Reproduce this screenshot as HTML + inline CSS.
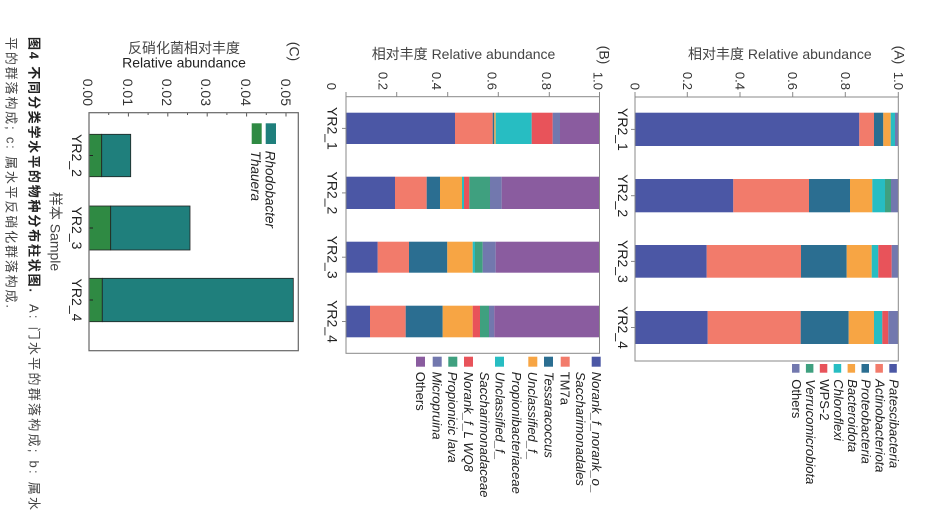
<!DOCTYPE html>
<html><head><meta charset="utf-8"><style>
html,body{margin:0;padding:0;background:#fff;}
svg{display:block;}
text{font-family:"Liberation Sans","Noto Sans CJK SC",sans-serif;}
</style></head><body>
<svg width="926" height="525" viewBox="0 0 926 525" xmlns="http://www.w3.org/2000/svg">
<rect width="926" height="525" fill="#fff"/>

<!-- ========== Panel A ========== -->
<text x="688" y="59" font-size="14" fill="#444">相对丰度 Relative abundance</text>
<text transform="translate(894.7,55) rotate(90)" font-size="14" fill="#333" text-anchor="middle">(A)</text>
<g font-size="13" fill="#333" text-anchor="end">
<text transform="translate(630.5,90) rotate(90)">0</text>
<text transform="translate(682.8,90) rotate(90)">0.2</text>
<text transform="translate(735.5,90) rotate(90)">0.4</text>
<text transform="translate(788.2,90) rotate(90)">0.6</text>
<text transform="translate(840.8,90) rotate(90)">0.8</text>
<text transform="translate(893.8,90) rotate(90)">1.0</text>
</g>
<g stroke="#888" stroke-width="1">
<line x1="635" y1="92" x2="635" y2="97"/><line x1="687.3" y1="92" x2="687.3" y2="97"/><line x1="740" y1="92" x2="740" y2="97"/>
<line x1="792.7" y1="92" x2="792.7" y2="97"/><line x1="845.3" y1="92" x2="845.3" y2="97"/><line x1="898.3" y1="92" x2="898.3" y2="97"/>
<line x1="631" y1="129.4" x2="635" y2="129.4"/><line x1="631" y1="195.7" x2="635" y2="195.7"/>
<line x1="631" y1="261.4" x2="635" y2="261.4"/><line x1="631" y1="327.5" x2="635" y2="327.5"/>
</g>
<!-- bars A -->
<g>
<rect x="635" y="112.7" width="224.3" height="33.3" fill="#4B57A5"/>
<rect x="859.3" y="112.7" width="14.7" height="33.3" fill="#F27B6B"/>
<rect x="874" y="112.7" width="9.3" height="33.3" fill="#2B6E91"/>
<rect x="883.3" y="112.7" width="7.4" height="33.3" fill="#F7A544"/>
<rect x="890.7" y="112.7" width="4.3" height="33.3" fill="#27BDC2"/>
<rect x="895" y="112.7" width="3.3" height="33.3" fill="#7278AE"/>

<rect x="635" y="179" width="98.3" height="33.3" fill="#4B57A5"/>
<rect x="733.3" y="179" width="75.7" height="33.3" fill="#F27B6B"/>
<rect x="809" y="179" width="41" height="33.3" fill="#2B6E91"/>
<rect x="850" y="179" width="22.3" height="33.3" fill="#F7A544"/>
<rect x="872.3" y="179" width="12.7" height="33.3" fill="#27BDC2"/>
<rect x="885" y="179" width="6" height="33.3" fill="#3FA07F"/>
<rect x="891" y="179" width="7.3" height="33.3" fill="#7278AE"/>

<rect x="635" y="245" width="71.7" height="32.7" fill="#4B57A5"/>
<rect x="706.7" y="245" width="94.3" height="32.7" fill="#F27B6B"/>
<rect x="801" y="245" width="45.7" height="32.7" fill="#2B6E91"/>
<rect x="846.7" y="245" width="25" height="32.7" fill="#F7A544"/>
<rect x="871.7" y="245" width="6.6" height="32.7" fill="#27BDC2"/>
<rect x="878.3" y="245" width="13.4" height="32.7" fill="#E8535A"/>
<rect x="891.7" y="245" width="6.6" height="32.7" fill="#7278AE"/>

<rect x="635" y="311" width="72.7" height="33" fill="#4B57A5"/>
<rect x="707.7" y="311" width="93" height="33" fill="#F27B6B"/>
<rect x="800.7" y="311" width="48" height="33" fill="#2B6E91"/>
<rect x="848.7" y="311" width="25.3" height="33" fill="#F7A544"/>
<rect x="874" y="311" width="8.3" height="33" fill="#27BDC2"/>
<rect x="882.3" y="311" width="6" height="33" fill="#E8535A"/>
<rect x="888.3" y="311" width="10" height="33" fill="#7278AE"/>
</g>
<rect x="635" y="97" width="263.3" height="264" fill="none" stroke="#888" stroke-width="1"/>
<g font-size="14" fill="#222" text-anchor="middle">
<text transform="translate(618,129.4) rotate(90)">YR2_1</text>
<text transform="translate(618,195.7) rotate(90)">YR2_2</text>
<text transform="translate(618,261.4) rotate(90)">YR2_3</text>
<text transform="translate(618,327.5) rotate(90)">YR2_4</text>
</g>
<!-- legend A -->
<g>
<rect x="889.3" y="364" width="7.5" height="8.7" fill="#4B57A5"/>
<rect x="875.4" y="364" width="7.5" height="8.7" fill="#F27B6B"/>
<rect x="861.5" y="364" width="7.5" height="8.7" fill="#2B6E91"/>
<rect x="847.6" y="364" width="7.5" height="8.7" fill="#F7A544"/>
<rect x="833.7" y="364" width="7.5" height="8.7" fill="#27BDC2"/>
<rect x="819.8" y="364" width="7.5" height="8.7" fill="#E8535A"/>
<rect x="805.9" y="364" width="7.5" height="8.7" fill="#3FA07F"/>
<rect x="792" y="364" width="7.5" height="8.7" fill="#7278AE"/>
</g>
<g font-size="13" fill="#222">
<text transform="translate(889.5,379.3) rotate(90)" font-style="italic">Patescibacteria</text>
<text transform="translate(875.6,379.3) rotate(90)" font-style="italic">Actinobacteriota</text>
<text transform="translate(861.7,379.3) rotate(90)" font-style="italic">Proteobacteria</text>
<text transform="translate(847.8,379.3) rotate(90)" font-style="italic">Bacteroidota</text>
<text transform="translate(833.9,379.3) rotate(90)" font-style="italic">Chloroflexi</text>
<text transform="translate(820,379.3) rotate(90)">WPS-2</text>
<text transform="translate(806.1,379.3) rotate(90)" font-style="italic">Verrucomicrobiota</text>
<text transform="translate(792.2,379.3) rotate(90)">Others</text>
</g>

<!-- ========== Panel B ========== -->
<text x="371.7" y="59" font-size="14" fill="#444">相对丰度 Relative abundance</text>
<text transform="translate(599.7,55) rotate(90)" font-size="14" fill="#333" text-anchor="middle">(B)</text>
<g font-size="13" fill="#333" text-anchor="end">
<text transform="translate(327,90) rotate(90)">0</text>
<text transform="translate(378.4,90) rotate(90)">0.2</text>
<text transform="translate(432,90) rotate(90)">0.4</text>
<text transform="translate(487.4,90) rotate(90)">0.6</text>
<text transform="translate(542,90) rotate(90)">0.8</text>
<text transform="translate(593.4,90) rotate(90)">1.0</text>
</g>
<g stroke="#888" stroke-width="1">
<line x1="346" y1="92" x2="346" y2="97"/><line x1="396.7" y1="92" x2="396.7" y2="97"/><line x1="447.7" y1="92" x2="447.7" y2="97"/>
<line x1="498.3" y1="92" x2="498.3" y2="97"/><line x1="549.3" y1="92" x2="549.3" y2="97"/><line x1="599.5" y1="92" x2="599.5" y2="97"/>
<line x1="342" y1="128.4" x2="346" y2="128.4"/><line x1="342" y1="192.9" x2="346" y2="192.9"/>
<line x1="342" y1="257.2" x2="346" y2="257.2"/><line x1="342" y1="321.5" x2="346" y2="321.5"/>
</g>
<g>
<rect x="346" y="112.7" width="109" height="31.3" fill="#4B57A5"/>
<rect x="455" y="112.7" width="37.7" height="31.3" fill="#F27B6B"/>
<rect x="492.7" y="112.7" width="1.6" height="31.3" fill="#2B6E91"/>
<rect x="494.3" y="112.7" width="1.4" height="31.3" fill="#F7A544"/>
<rect x="495.7" y="112.7" width="36" height="31.3" fill="#27BDC2"/>
<rect x="531.7" y="112.7" width="21" height="31.3" fill="#E8535A"/>
<rect x="552.7" y="112.7" width="7.3" height="31.3" fill="#7278AE"/>
<rect x="560" y="112.7" width="39.5" height="31.3" fill="#8A5C9F"/>

<rect x="346" y="176.7" width="49" height="32.3" fill="#4B57A5"/>
<rect x="395" y="176.7" width="31.7" height="32.3" fill="#F27B6B"/>
<rect x="426.7" y="176.7" width="13.3" height="32.3" fill="#2B6E91"/>
<rect x="440" y="176.7" width="22" height="32.3" fill="#F7A544"/>
<rect x="462" y="176.7" width="2" height="32.3" fill="#27BDC2"/>
<rect x="464" y="176.7" width="5.3" height="32.3" fill="#E8535A"/>
<rect x="469.3" y="176.7" width="20.7" height="32.3" fill="#3FA07F"/>
<rect x="490" y="176.7" width="11.7" height="32.3" fill="#7278AE"/>
<rect x="501.7" y="176.7" width="97.8" height="32.3" fill="#8A5C9F"/>

<rect x="346" y="241.7" width="31.7" height="31" fill="#4B57A5"/>
<rect x="377.7" y="241.7" width="31.3" height="31" fill="#F27B6B"/>
<rect x="409" y="241.7" width="38.3" height="31" fill="#2B6E91"/>
<rect x="447.3" y="241.7" width="25.4" height="31" fill="#F7A544"/>
<rect x="472.7" y="241.7" width="2.3" height="31" fill="#27BDC2"/>
<rect x="475" y="241.7" width="7.7" height="31" fill="#3FA07F"/>
<rect x="482.7" y="241.7" width="13" height="31" fill="#7278AE"/>
<rect x="495.7" y="241.7" width="103.8" height="31" fill="#8A5C9F"/>

<rect x="346" y="305.7" width="24" height="31.6" fill="#4B57A5"/>
<rect x="370" y="305.7" width="35.7" height="31.6" fill="#F27B6B"/>
<rect x="405.7" y="305.7" width="37" height="31.6" fill="#2B6E91"/>
<rect x="442.7" y="305.7" width="30" height="31.6" fill="#F7A544"/>
<rect x="472.7" y="305.7" width="7.3" height="31.6" fill="#E8535A"/>
<rect x="480" y="305.7" width="9" height="31.6" fill="#3FA07F"/>
<rect x="489" y="305.7" width="5.3" height="31.6" fill="#7278AE"/>
<rect x="494.3" y="305.7" width="105.2" height="31.6" fill="#8A5C9F"/>
</g>
<rect x="346" y="96.7" width="253.5" height="256.6" fill="none" stroke="#888" stroke-width="1"/>
<g font-size="14" fill="#222" text-anchor="middle">
<text transform="translate(327.5,128.4) rotate(90)">YR2_1</text>
<text transform="translate(327.5,192.9) rotate(90)">YR2_2</text>
<text transform="translate(327.5,257.2) rotate(90)">YR2_3</text>
<text transform="translate(327.5,321.5) rotate(90)">YR2_4</text>
</g>
<!-- legend B -->
<g>
<rect x="591.7" y="356.7" width="9" height="10" fill="#4B57A5"/>
<rect x="560.7" y="356.7" width="9" height="10" fill="#F27B6B"/>
<rect x="544" y="356.7" width="9" height="10" fill="#2B6E91"/>
<rect x="528.3" y="356.7" width="9" height="10" fill="#F7A544"/>
<rect x="495" y="356.7" width="9" height="10" fill="#27BDC2"/>
<rect x="464" y="356.7" width="9" height="10" fill="#E8535A"/>
<rect x="448.3" y="356.7" width="9" height="10" fill="#3FA07F"/>
<rect x="432.7" y="356.7" width="9" height="10" fill="#7278AE"/>
<rect x="416" y="356.7" width="9" height="10" fill="#8A5C9F"/>
</g>
<g font-size="13" fill="#222">
<text transform="translate(592,371.7) rotate(90)" font-style="italic">Norank_f_norank_o_</text>
<text transform="translate(576,371.7) rotate(90)" font-style="italic">Saccharimonadales</text>
<text transform="translate(560.7,371.7) rotate(90)">TM7a</text>
<text transform="translate(544.5,371.7) rotate(90)" font-style="italic">Tessaracoccus</text>
<text transform="translate(528,371.7) rotate(90)" font-style="italic">Unclassified_f_</text>
<text transform="translate(512,371.7) rotate(90)" font-style="italic">Propionibacteriaceae</text>
<text transform="translate(495.5,371.7) rotate(90)" font-style="italic">Unclassified_f_</text>
<text transform="translate(480,371.7) rotate(90)" font-style="italic">Saccharimonadaceae</text>
<text transform="translate(464,371.7) rotate(90)" font-style="italic">Norank_f_L WQ8</text>
<text transform="translate(448,371.7) rotate(90)" font-style="italic">Propionicic lava</text>
<text transform="translate(432.5,371.7) rotate(90)" font-style="italic">Micropruina</text>
<text transform="translate(416,371.7) rotate(90)">Others</text>
</g>

<!-- ========== Panel C ========== -->
<text x="184" y="53" font-size="14" fill="#444" text-anchor="middle">反硝化菌相对丰度</text>
<text x="184" y="67.5" font-size="14" fill="#222" text-anchor="middle">Relative abundance</text>
<text transform="translate(289.5,51.5) rotate(90)" font-size="14" fill="#333" text-anchor="middle">(C)</text>
<g font-size="14" fill="#333" text-anchor="end">
<text transform="translate(83,106) rotate(90)">0.00</text>
<text transform="translate(123,106) rotate(90)">0.01</text>
<text transform="translate(162,106) rotate(90)">0.02</text>
<text transform="translate(201,106) rotate(90)">0.03</text>
<text transform="translate(241,106) rotate(90)">0.04</text>
<text transform="translate(281,106) rotate(90)">0.05</text>
</g>
<g stroke="#555" stroke-width="1">
<line x1="128.4" y1="112.7" x2="128.4" y2="116.5"/><line x1="167.8" y1="112.7" x2="167.8" y2="116.5"/>
<line x1="207.2" y1="112.7" x2="207.2" y2="116.5"/><line x1="246.6" y1="112.7" x2="246.6" y2="116.5"/>
<line x1="286" y1="112.7" x2="286" y2="116.5"/>
<line x1="108.7" y1="112.7" x2="108.7" y2="115"/><line x1="148.1" y1="112.7" x2="148.1" y2="115"/>
<line x1="187.5" y1="112.7" x2="187.5" y2="115"/><line x1="226.9" y1="112.7" x2="226.9" y2="115"/>
<line x1="266.3" y1="112.7" x2="266.3" y2="115"/>
</g>
<g stroke="#222" stroke-width="0.8">
<rect x="89" y="134.3" width="12.7" height="42.4" fill="#2F8A43"/>
<rect x="101.7" y="134.3" width="29" height="42.4" fill="#1F7F7C"/>
<rect x="89" y="206" width="21.7" height="44" fill="#2F8A43"/>
<rect x="110.7" y="206" width="79.3" height="44" fill="#1F7F7C"/>
<rect x="89" y="278.3" width="13.3" height="43.4" fill="#2F8A43"/>
<rect x="102.3" y="278.3" width="191" height="43.4" fill="#1F7F7C"/>
</g>
<g stroke="#222" stroke-width="1">
<line x1="89" y1="155.5" x2="93" y2="155.5"/><line x1="89" y1="228" x2="93" y2="228"/><line x1="89" y1="300" x2="93" y2="300"/>
</g>
<rect x="89" y="112.7" width="209.3" height="238" fill="none" stroke="#666" stroke-width="1.2"/>
<rect x="265.7" y="123.3" width="10.3" height="20.7" fill="#1F7F7C"/>
<rect x="251.7" y="123.3" width="10" height="20.7" fill="#2F8A43"/>
<g font-size="13.5" fill="#222" font-style="italic">
<text transform="translate(265.5,150.7) rotate(90)">Rhodobacter</text>
<text transform="translate(251,150.7) rotate(90)">Thauera</text>
</g>
<g font-size="14" fill="#222" text-anchor="middle">
<text transform="translate(72,155.5) rotate(90)">YR2_2</text>
<text transform="translate(72,228) rotate(90)">YR2_3</text>
<text transform="translate(72,300) rotate(90)">YR2_4</text>
</g>
<text transform="translate(50.5,231.5) rotate(90)" font-size="14" fill="#444" text-anchor="middle">样本 Sample</text>

<!-- ========== Caption ========== -->
<text transform="translate(29.5,37) rotate(90)" font-size="13" font-weight="bold" fill="#222" textLength="255" lengthAdjust="spacing">图4 不同分类学水平的物种分布柱状图.</text>
<text transform="translate(29.5,304) rotate(90)" font-size="13" fill="#444" textLength="206" lengthAdjust="spacing">A: 门水平的群落构成; b: 属水</text>
<text transform="translate(6.5,37) rotate(90)" font-size="13" fill="#444" textLength="271" lengthAdjust="spacing">平的群落构成; c: 属水平反硝化群落构成.</text>
</svg>
</body></html>
